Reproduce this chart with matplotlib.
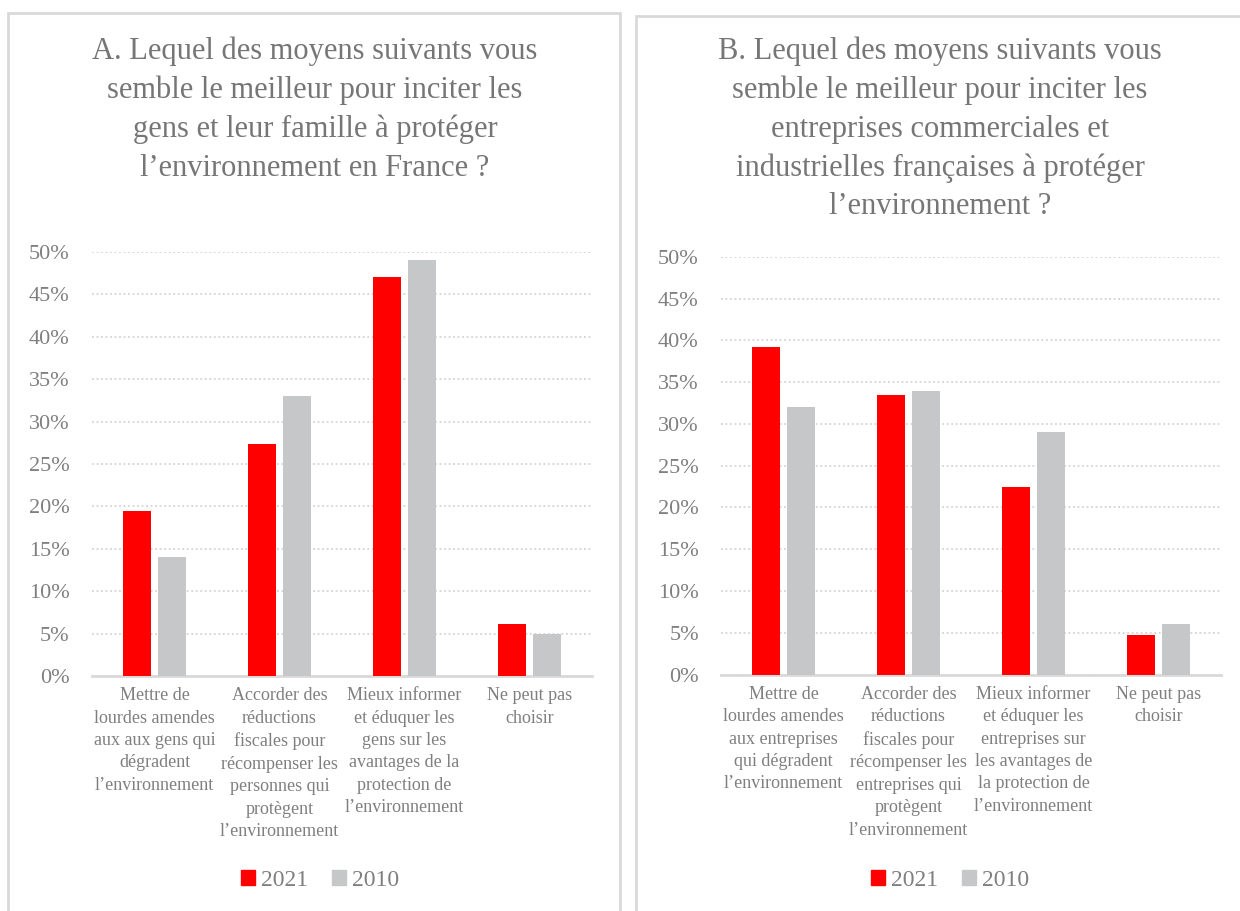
import matplotlib.pyplot as plt
import matplotlib.patches as mpatches
from matplotlib.ticker import PercentFormatter

years = ['2021', '2010']

titles = [
    "A. Lequel des moyens suivants vous\nsemble le meilleur pour inciter les\n"
    "gens et leur famille à protéger\nl’environnement en France ?",
    "B. Lequel des moyens suivants vous\nsemble le meilleur pour inciter les\n"
    "entreprises commerciales et\nindustrielles françaises à protéger\nl’environnement ?",
]

labels_a = [
    "Mettre de\nlourdes amendes\naux aux gens qui\ndégradent\nl’environnement",
    "Accorder des\nréductions\nfiscales pour\nrécompenser les\npersonnes qui\nprotègent\nl’environnement",
    "Mieux informer\net éduquer les\ngens sur les\navantages de la\nprotection de\nl’environnement",
    "Ne peut pas\nchoisir",
]
labels_b = [
    "Mettre de\nlourdes amendes\naux entreprises\nqui dégradent\nl’environnement",
    "Accorder des\nréductions\nfiscales pour\nrécompenser les\nentreprises qui\nprotègent\nl’environnement",
    "Mieux informer\net éduquer les\nentreprises sur\nles avantages de\nla protection de\nl’environnement",
    "Ne peut pas\nchoisir",
]

a_2021 = [19.4, 27.4, 47.0, 6.1]
a_2010 = [14.0, 33.0, 49.0, 5.0]
b_2021 = [39.2, 33.5, 22.4, 4.7]
b_2010 = [32.0, 34.0, 29.0, 6.0]

red = '#FF0000'
grey = '#C6C7C9'
txt = '#7F7F7F'
serif = ['Liberation Serif', 'DejaVu Serif']

plt.rcParams['font.family'] = serif

fig = plt.figure(figsize=(12.4, 9.11), dpi=100)

# panel frames
for x0, y0, w, h in [(8, 13, 612, 920), (636, 16, 620, 920)]:
    fig.patches.append(mpatches.Rectangle((x0 / 1240, 1 - (y0 + h) / 911), w / 1240, h / 911,
                                          transform=fig.transFigure, fill=False,
                                          edgecolor='#D9D9D9', linewidth=2))

panels = [
    (titles[0], labels_a, a_2021, a_2010, [0.0742, 0.2580, 0.4032, 0.4654], 315, 320),
    (titles[1], labels_b, b_2021, b_2010, [0.5815, 0.2596, 0.4032, 0.4583], 940, 950),
]

for title, labels, v21, v10, rect, tx, lx in panels:
    ax = fig.add_axes(rect)
    xs = range(len(labels))
    ax.bar([x - 0.14 for x in xs], v21, width=0.225, color=red, zorder=3)
    ax.bar([x + 0.14 for x in xs], v10, width=0.225, color=grey, zorder=3)
    ax.set_xlim(-0.5, len(labels) - 0.5)
    ax.set_ylim(0, 50)
    ax.set_yticks(range(0, 51, 5))
    ax.yaxis.set_major_formatter(PercentFormatter(decimals=0))
    ax.grid(axis='y', linestyle=(0, (1, 1.5)), color='#D4D4D4', linewidth=1.3, zorder=0)
    for s in ['top', 'right', 'left']:
        ax.spines[s].set_visible(False)
    ax.spines['bottom'].set_color('#D9D9D9')
    ax.spines['bottom'].set_linewidth(2)
    ax.tick_params(axis='y', length=0, pad=16, labelsize=16, labelcolor=txt)
    ax.tick_params(axis='x', length=0, pad=8)
    ax.set_xticks(list(xs))
    ax.set_xticklabels(labels, fontsize=13, color=txt, linespacing=1.42, va='top')
    fig.text(tx / 1240, 1 - 37 / 911, title, ha='center', va='top', fontsize=22,
             color='#767676', linespacing=1.42)
    handles = [mpatches.Patch(color=red, label=years[0]), mpatches.Patch(color=grey, label=years[1])]
    fig.legend(handles=handles, loc='center', bbox_to_anchor=(lx / 1240, 1 - 880 / 911), ncol=2,
               frameon=False, fontsize=17, labelcolor=txt, handlelength=0.6, handleheight=0.6,
               handletextpad=0.25, columnspacing=1.0)

fig.savefig('out.png', dpi=100, facecolor='white')
